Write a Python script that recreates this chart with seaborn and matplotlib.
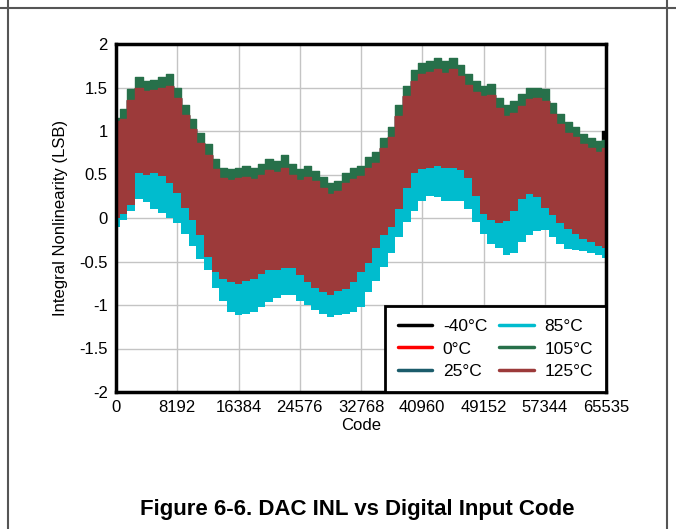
"""
plot.py - DAC INL vs digital input code (envelopes read off the datasheet figure)
"""

import matplotlib
matplotlib.use("Agg")
import matplotlib.pyplot as plt
from matplotlib.lines import Line2D
import seaborn as sns

# x positions of the envelope readings (every 1024 codes, plus full scale)
codes = list(range(0, 65536, 1024)) + [65535]

# 105°C upper envelope
inl_105_hi = [1.15, 1.25, 1.48, 1.62, 1.57, 1.59, 1.62, 1.65, 1.49, 1.30,
              1.14, 0.98, 0.85, 0.68, 0.58, 0.56, 0.58, 0.60, 0.58, 0.62,
              0.68, 0.66, 0.72, 0.62, 0.56, 0.60, 0.54, 0.47, 0.40, 0.43,
              0.52, 0.57, 0.60, 0.70, 0.76, 0.92, 1.05, 1.30, 1.52, 1.70,
              1.78, 1.80, 1.84, 1.80, 1.84, 1.76, 1.66, 1.58, 1.52, 1.54,
              1.38, 1.30, 1.34, 1.42, 1.50, 1.50, 1.48, 1.32, 1.20, 1.10,
              1.05, 0.97, 0.92, 0.88, 0.90]

# 125°C upper / lower envelope
inl_125_hi = [1.12, 1.14, 1.36, 1.50, 1.46, 1.47, 1.50, 1.52, 1.38, 1.18,
              1.02, 0.86, 0.72, 0.56, 0.46, 0.44, 0.46, 0.47, 0.45, 0.50,
              0.55, 0.53, 0.58, 0.50, 0.44, 0.47, 0.42, 0.35, 0.28, 0.31,
              0.40, 0.45, 0.48, 0.57, 0.63, 0.80, 0.93, 1.17, 1.40, 1.57,
              1.65, 1.68, 1.71, 1.67, 1.71, 1.63, 1.53, 1.45, 1.40, 1.41,
              1.26, 1.17, 1.21, 1.29, 1.37, 1.38, 1.35, 1.20, 1.08, 0.98,
              0.93, 0.85, 0.80, 0.76, 0.80]
inl_125_lo = [0.00, 0.05, 0.15, 0.52, 0.50, 0.52, 0.48, 0.40, 0.29, 0.12,
              -0.02, -0.20, -0.45, -0.62, -0.70, -0.74, -0.76, -0.72, -0.70, -0.64,
              -0.60, -0.60, -0.57, -0.58, -0.66, -0.74, -0.80, -0.85, -0.88, -0.84,
              -0.82, -0.74, -0.62, -0.52, -0.35, -0.20, -0.10, 0.10, 0.35, 0.52,
              0.56, 0.58, 0.60, 0.58, 0.58, 0.55, 0.46, 0.25, 0.05, -0.02,
              -0.06, -0.04, 0.08, 0.22, 0.28, 0.24, 0.12, 0.04, -0.06, -0.13,
              -0.18, -0.24, -0.28, -0.32, -0.34]

# 85°C upper / lower envelope
inl_85_hi = [0.20, 0.30, 0.40, 0.56, 0.52, 0.55, 0.50, 0.44, 0.32, 0.20,
             0.10, -0.05, -0.25, -0.40, -0.45, -0.50, -0.52, -0.48, -0.45, -0.40,
             -0.36, -0.36, -0.33, -0.34, -0.42, -0.50, -0.55, -0.60, -0.62, -0.60,
             -0.58, -0.50, -0.38, -0.28, -0.12, 0.02, 0.12, 0.32, 0.55, 0.68,
             0.72, 0.74, 0.75, 0.72, 0.72, 0.70, 0.62, 0.45, 0.25, 0.18,
             0.14, 0.16, 0.28, 0.40, 0.46, 0.42, 0.32, 0.24, 0.14, 0.06,
             0.02, -0.04, -0.08, -0.12, -0.14]
inl_85_lo = [-0.10, -0.02, 0.08, 0.22, 0.18, 0.10, 0.06, 0.00, -0.06, -0.18,
             -0.32, -0.47, -0.60, -0.80, -0.95, -1.08, -1.12, -1.10, -1.08, -1.02,
             -0.96, -0.92, -0.88, -0.88, -0.95, -1.00, -1.06, -1.10, -1.14, -1.12,
             -1.10, -1.08, -1.02, -0.85, -0.72, -0.56, -0.40, -0.22, -0.05, 0.08,
             0.20, 0.25, 0.24, 0.20, 0.20, 0.20, 0.10, -0.05, -0.18, -0.30,
             -0.35, -0.42, -0.40, -0.28, -0.20, -0.15, -0.14, -0.22, -0.30, -0.36,
             -0.37, -0.38, -0.40, -0.43, -0.46]

# the colder curves sit under the hot ones; only -40°C pokes out at full scale
inl_m40_hi = inl_125_hi[:-1] + [1.00]

temps = ["-40°C", "0°C", "25°C", "85°C", "105°C", "125°C"]
colors = ["#000000", "#FF0000", "#1B5C6B", "#00BCCE", "#27704A", "#9C3A3A"]
lows = [inl_85_lo, inl_85_lo, inl_85_lo, inl_85_lo, inl_125_lo, inl_125_lo]
highs = [inl_m40_hi, inl_125_hi, inl_125_hi, inl_85_hi, inl_105_hi, inl_125_hi]

yticks = [-2, -1.5, -1, -0.5, 0, 0.5, 1, 1.5, 2]
ylabels = ["-2", "-1.5", "-1", "-0.5", "0", "0.5", "1", "1.5", "2"]
xticks = [0, 8192, 16384, 24576, 32768, 40960, 49152, 57344, 65535]

sns.set_style("white")
plt.rcParams["font.family"] = ["Liberation Sans", "DejaVu Sans"]
plt.rcParams["text.color"] = "black"
plt.rcParams["axes.labelcolor"] = "black"

fig = plt.figure(figsize=(6.76, 5.29), dpi=100)
ax = fig.add_axes([116 / 676, 1 - 392 / 529, 490 / 676, 348 / 529])

# later (hotter) curves are drawn on top, as in the datasheet
for i, (name, lo, hi, col) in enumerate(zip(temps, lows, highs, colors)):
    z = 2 + i
    ax.fill_between(codes, lo, hi, step="mid", color=col, linewidth=0, zorder=z)
    sns.lineplot(x=codes, y=hi, color=col, drawstyle="steps-mid",
                 linewidth=1, estimator=None, ax=ax, label=name, zorder=z)

ax.set_xlim(0, 65535)
ax.set_ylim(-2, 2)
ax.set_xticks(xticks)
ax.set_xticklabels([str(t) for t in xticks])
ax.set_yticks(yticks)
ax.set_yticklabels(ylabels)
ax.tick_params(length=0, labelsize=12, colors="black", pad=6)
ax.grid(True, color="#c4c4c4", linewidth=1)
ax.set_axisbelow(True)
for sp in ax.spines.values():
    sp.set_color("black")
    sp.set_linewidth(2.5)
    sp.set_zorder(20)

ax.set_xlabel("Code", fontsize=12, labelpad=2)
ax.set_ylabel("Integral Nonlinearity (LSB)", fontsize=12, labelpad=8)

leg = ax.legend(loc="lower right", ncol=2, fontsize=12.5, frameon=True,
                fancybox=False, borderaxespad=0, handlelength=2.0,
                handletextpad=0.6, columnspacing=0.7, labelspacing=0.42,
                borderpad=0.75)
leg.get_frame().set_edgecolor("black")
leg.get_frame().set_linewidth(2)
leg.get_frame().set_alpha(1)
leg.set_zorder(30)
for h in leg.get_lines():
    h.set_linewidth(2.5)

fig.text(357 / 676, 1 - 510 / 529, "Figure 6-6. DAC INL vs Digital Input Code",
         ha="center", va="center", fontsize=16, fontweight="bold", color="black")

# page frame from the datasheet
for xy in [([0, 1], [1 - 8 / 529] * 2), ([8 / 676] * 2, [0, 1]), ([667 / 676] * 2, [0, 1])]:
    fig.add_artist(Line2D(xy[0], xy[1], color="#555555", linewidth=1.5))

plt.savefig("out.png", dpi=100)
